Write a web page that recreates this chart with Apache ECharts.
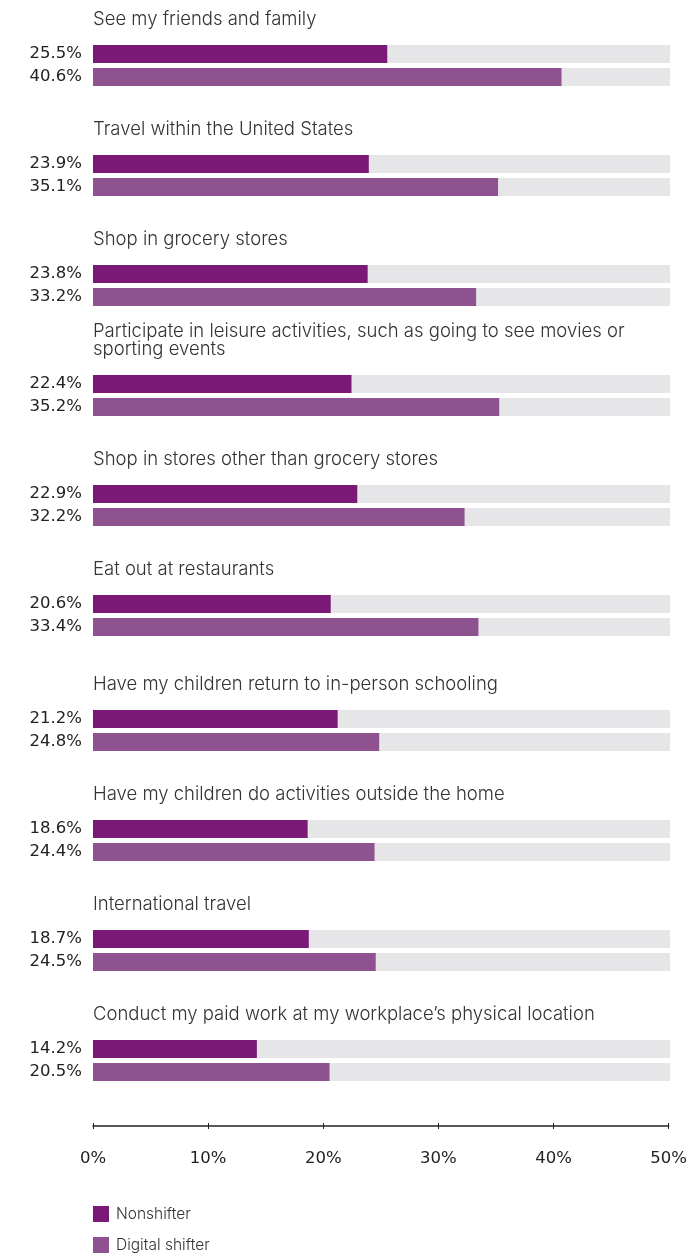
<!DOCTYPE html>
<html>
<head>
<meta charset="utf-8">
<script src="https://cdn.jsdelivr.net/npm/echarts@6/dist/echarts.min.js"></script>
<style>
  html, body { margin: 0; padding: 0; background: #fff; }
  #chart { width: 690px; height: 1257px; }
</style>
</head>
<body>
<div id="chart"></div>
<script>
// Activities respondents would do once restrictions lift, by group (%)
const categories = [
  'See my friends and family',
  'Travel within the United States',
  'Shop in grocery stores',
  'Participate in leisure activities, such as going to see movies or\nsporting events',
  'Shop in stores other than grocery stores',
  'Eat out at restaurants',
  'Have my children return to in-person schooling',
  'Have my children do activities outside the home',
  'International travel',
  'Conduct my paid work at my workplace\u2019s physical location'
];
const nonshifter = [25.5, 23.9, 23.8, 22.4, 22.9, 20.6, 21.2, 18.6, 18.7, 14.2];
const digitalShifter = [40.6, 35.1, 33.2, 35.2, 32.2, 33.4, 24.8, 24.4, 24.5, 20.5];
const seriesNames = ['Nonshifter', 'Digital shifter'];
const xTicks = [0, 10, 20, 30, 40, 50];

const COLORS = ['#7a1a76', '#8e5290'];
const TRACK = '#e6e6e8';
const TITLE_FONT = 'Inter, "Open Sans", sans-serif';
const NUM_FONT = '"DejaVu Sans", Inter, sans-serif';
const LEFT = 93, RIGHT = 20;
const BAR_W = 18, BAND = 23;

// vertical layout of each panel (top edge of its first bar)
function barTop(i) { return 45 + i * 110 + (i >= 6 ? 5 : 0); }

const grids = [], xAxes = [], yAxes = [], series = [], graphics = [];

categories.forEach((cat, i) => {
  const top = barTop(i);
  grids.push({ left: LEFT, right: RIGHT, top: top - (BAND - BAR_W) / 2, height: BAND * 2 });
  xAxes.push({ gridIndex: i, type: 'value', min: xTicks[0], max: xTicks[xTicks.length - 1], show: false });
  yAxes.push({ gridIndex: i, type: 'category', data: seriesNames, inverse: true, show: false });
  [nonshifter[i], digitalShifter[i]].forEach((v, k) => {
    const data = k === 0 ? [v, '-'] : ['-', v];
    series.push({
      name: seriesNames[k],
      type: 'bar',
      xAxisIndex: i,
      yAxisIndex: i,
      data: data,
      barWidth: BAR_W,
      barGap: '-100%',
      showBackground: true,
      backgroundStyle: { color: TRACK },
      itemStyle: { color: COLORS[k] },
      label: {
        show: true,
        position: 'left',
        distance: 11,
        formatter: p => p.value.toFixed(1) + '%',
        color: '#222',
        fontFamily: NUM_FONT,
        fontSize: 16.5
      },
      silent: true,
      animation: false
    });
  });
  graphics.push({
    type: 'text',
    left: LEFT,
    top: top - 17 - (cat.split('\n').length * 18),
    style: {
      text: cat,
      fill: '#333',
      font: '300 18.5px ' + TITLE_FONT,
      lineHeight: 18
    }
  });
});

// shared percentage axis at the bottom
const ai = categories.length;
grids.push({ left: LEFT, right: RIGHT, top: 1100, height: 26 });
[false, true].forEach(inside => {
  xAxes.push({
    gridIndex: ai,
    type: 'value',
    position: 'bottom',
    min: xTicks[0],
    max: xTicks[xTicks.length - 1],
    interval: xTicks[1] - xTicks[0],
    splitLine: { show: false },
    axisLine: { show: !inside, lineStyle: { color: '#222', width: 1.5 } },
    axisTick: { show: true, inside: inside, length: 3, lineStyle: { color: '#222', width: 1 } },
    axisLabel: {
      show: !inside,
      margin: 24,
      formatter: '{value}%',
      color: '#222',
      fontFamily: NUM_FONT,
      fontSize: 16.5
    }
  });
});
yAxes.push({ gridIndex: ai, type: 'value', show: false });
series.push({ type: 'scatter', xAxisIndex: ai, yAxisIndex: ai, data: [], silent: true });

const chart = echarts.init(document.getElementById('chart'), null, { renderer: 'canvas' });
chart.setOption({
  animation: false,
  grid: grids,
  xAxis: xAxes,
  yAxis: yAxes,
  series: series,
  graphic: graphics,
  legend: {
    data: seriesNames,
    orient: 'vertical',
    left: LEFT,
    top: 1206,
    padding: 0,
    icon: 'rect',
    itemWidth: 16,
    itemHeight: 16,
    itemGap: 15,
    selectedMode: false,
    textStyle: { color: '#333', fontFamily: TITLE_FONT, fontWeight: 300, fontSize: 15.5, padding: [0, 0, 0, 2] }
  }
});
</script>
</body>
</html>
